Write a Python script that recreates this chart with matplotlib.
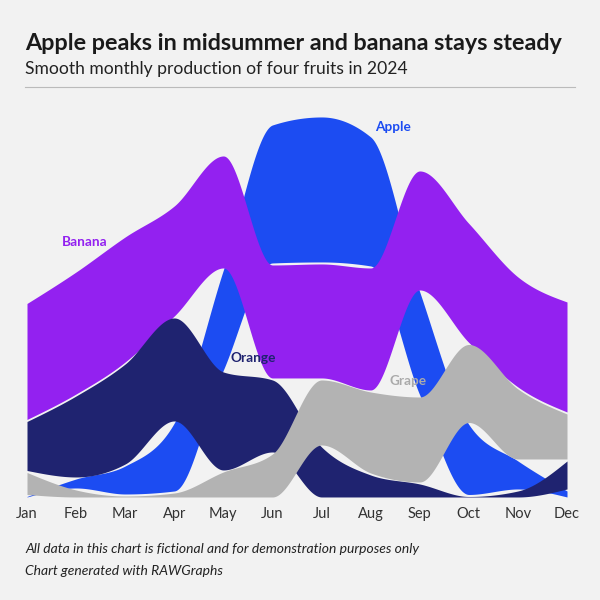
import numpy as np
import matplotlib
matplotlib.use("Agg")
import matplotlib.pyplot as plt

# monthly production (thousand tonnes)
months = ["Jan", "Feb", "Mar", "Apr", "May", "Jun", "Jul", "Aug", "Sep", "Oct", "Nov", "Dec"]
apple = [0.5, 9, 28, 68, 100, 138, 145, 129, 103, 70, 28, 6]
banana = [116, 122, 125, 110, 112, 113, 114, 122, 119, 119, 110, 110]
orange = [49, 81, 100, 103, 98, 72, 50, 22, 13, 0.5, 6, 28]
grape = [22, 7, 1, 4, 25, 43, 65, 81, 85, 78, 70, 45]

names = ["Apple", "Banana", "Orange", "Grape"]
colors = ["#1c4cf2", "#9321f0", "#1f2370", "#b3b3b3"]
bg = "#f2f2f2"
pad = 2.0


def monotone(x, y, n=60):
    # cubic monotone interpolation, same slopes as d3.curveMonotoneX
    x = np.asarray(x, float)
    y = np.asarray(y, float)
    h = np.diff(x)
    s = np.diff(y) / h
    m = np.zeros_like(y)
    for i in range(1, len(y) - 1):
        p = (s[i - 1] * h[i] + s[i] * h[i - 1]) / (h[i - 1] + h[i])
        sg = (1 if s[i - 1] >= 0 else -1) + (1 if s[i] >= 0 else -1)
        m[i] = sg * min(abs(s[i - 1]), abs(s[i]), 0.5 * abs(p))
    m[0] = (3 * s[0] - m[1]) / 2
    m[-1] = (3 * s[-1] - m[-2]) / 2
    xs, ys = [], []
    for i in range(len(y) - 1):
        t = np.linspace(0, 1, n, endpoint=(i == len(y) - 2))
        h00 = 2 * t**3 - 3 * t**2 + 1
        h10 = t**3 - 2 * t**2 + t
        h01 = -2 * t**3 + 3 * t**2
        h11 = t**3 - t**2
        xs.append(x[i] + t * h[i])
        ys.append(h00 * y[i] + h10 * h[i] * m[i] + h01 * y[i + 1] + h11 * h[i] * m[i + 1])
    return np.concatenate(xs), np.concatenate(ys)


# stack at each month, smallest at the bottom
vals = np.array([apple, banana, orange, grape], float)
low = np.zeros_like(vals)
high = np.zeros_like(vals)
for j in range(vals.shape[1]):
    cum = 0.0
    for k in np.argsort(vals[:, j], kind="stable"):
        low[k, j] = cum
        high[k, j] = cum + vals[k, j]
        cum = high[k, j] + pad

fig = plt.figure(figsize=(6, 6), dpi=100, facecolor=bg)
ax = fig.add_axes([0.045, 0.1717, 0.9, 0.6617])
ax.set_facecolor(bg)

x = np.arange(len(months))
for k in range(len(names)):
    xs, y0 = monotone(x, low[k])
    _, y1 = monotone(x, high[k])
    ax.fill_between(xs, y0, y1, color=colors[k], linewidth=0)

ax.set_xlim(0, 11)
ax.set_ylim(0, 397)
ax.set_xticks(x)
ax.set_xticklabels(months, fontsize=10.5, color="#333333", family="Lato")
ax.tick_params(axis="x", length=0, pad=7)
ax.set_yticks([])
for sp in ax.spines.values():
    sp.set_visible(False)

# series labels
lab = dict(fontsize=9.8, fontweight="bold", ha="center", va="center", family="Lato")
ax.text(7.46, 370, "Apple", color=colors[0], **lab)
ax.text(1.18, 255, "Banana", color=colors[1], **lab)
ax.text(4.6, 139, "Orange", color=colors[2], **lab)
ax.text(7.76, 116, "Grape", color="#aaaaaa", **lab)

fig.text(25 / 600, 1 - 44 / 600, "Apple peaks in midsummer and banana stays steady",
         fontsize=16.8, fontweight="bold", color="#1a1a1a", va="center", family="Lato")
fig.text(25 / 600, 1 - 69 / 600, "Smooth monthly production of four fruits in 2024",
         fontsize=12.6, color="#222222", va="center", family="Lato")
fig.add_artist(plt.Line2D([25 / 600, 575 / 600], [1 - 87 / 600, 1 - 87 / 600], color="#bbbbbb", linewidth=0.8))

fig.text(25 / 600, 1 - 549 / 600, "All data in this chart is fictional and for demonstration purposes only",
         fontsize=10, style="italic", color="#222222", va="center", family="Lato")
fig.text(25 / 600, 1 - 571 / 600, "Chart generated with RAWGraphs",
         fontsize=10, style="italic", color="#222222", va="center", family="Lato")

fig.savefig("out.png", dpi=100, facecolor=bg)
